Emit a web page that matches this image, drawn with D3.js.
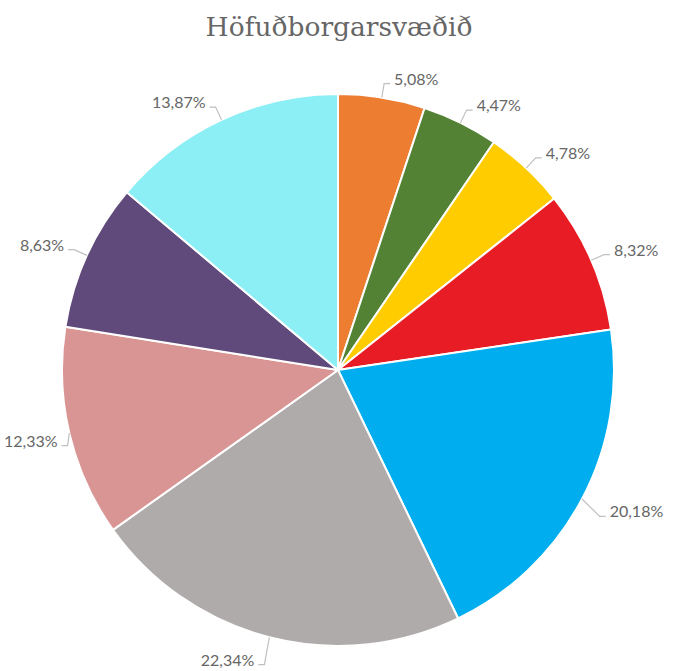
<!DOCTYPE html>
<html>
<head>
<meta charset="utf-8">
<script src="https://cdn.jsdelivr.net/npm/d3@7"></script>
<style>
  html, body { margin: 0; padding: 0; background: #fff; }
  #chart { width: 673px; height: 671px; }
</style>
</head>
<body>
<div id="chart"></div>
<script>
// Chart data
const title = "Höfuðborgarsvæðið";
const categories = ["a", "b", "c", "d", "e", "f", "g", "h", "i"];
const values = [5.08, 4.47, 4.78, 8.32, 20.18, 22.34, 12.33, 8.63, 13.87];
const colors = ["#ED7D31", "#548235", "#FFCC00", "#E81C24", "#00AEEF", "#AFABAB", "#D99594", "#604A7B", "#8CEFF5"];

const width = 673, height = 671;
const cx = 338, cy = 370, radius = 276;

const fmt = v => v.toFixed(2).replace(".", ",") + "%";

const svg = d3.select("#chart")
    .append("svg")
    .attr("width", width)
    .attr("height", height);

svg.append("text")
    .attr("x", cx + 1)
    .attr("y", 36)
    .attr("text-anchor", "middle")
    .attr("font-family", "'DejaVu Serif'")
    .attr("font-size", 26.5)
    .attr("fill", "#666")
    .text(title);

const pie = d3.pie().sort(null).value(d => d.value);
const arcs = pie(categories.map((c, i) => ({ cat: c, value: values[i], color: colors[i] })));

const arc = d3.arc().innerRadius(0).outerRadius(radius);

const g = svg.append("g").attr("transform", `translate(${cx},${cy})`);

g.selectAll("path.slice")
    .data(arcs)
    .enter()
    .append("path")
    .attr("class", "slice")
    .attr("d", arc)
    .attr("fill", d => d.data.color)
    .attr("stroke", "#fff")
    .attr("stroke-width", 2)
    .attr("stroke-linejoin", "round");

// Labels with elbow connectors
const pointAt = (a, r) => [Math.sin(a) * r, -Math.cos(a) * r];

const labels = g.selectAll("g.label")
    .data(arcs)
    .enter()
    .append("g")
    .attr("class", "label");

labels.each(function (d) {
    const a = (d.startAngle + d.endAngle) / 2;
    const right = Math.sin(a) >= 0;
    const lower = -Math.cos(a) > 0;
    const [x0, y0] = pointAt(a, radius);
    let [x1, y1] = pointAt(a, radius + (lower ? 20 : 14));
    if (lower) y1 += 8;
    const sel = d3.select(this);
    const text = sel.append("text")
        .attr("font-family", "Lato")
        .attr("font-size", 16)
        .attr("fill", "#666")
        .attr("text-anchor", right ? "start" : "end")
        .text(fmt(d.data.value));
    const tw = text.node().getComputedTextLength();
    // keep the label inside the picture
    if (!right && cx + x1 - 10 - tw < 4) x1 = 4 + tw + 10 - cx;
    if (right && cx + x1 + 10 + tw > width) x1 = width - tw - 10 - cx;
    const x2 = x1 + (right ? 6 : -6);
    sel.insert("path", "text")
        .attr("d", `M${x0},${y0}L${x1},${y1}L${x2},${y1}`)
        .attr("fill", "none")
        .attr("stroke", "#c0c0c0")
        .attr("stroke-width", 1.2);
    text.attr("x", x2 + (right ? 4 : -4))
        .attr("y", y1 + 1);
});
</script>
</body>
</html>
